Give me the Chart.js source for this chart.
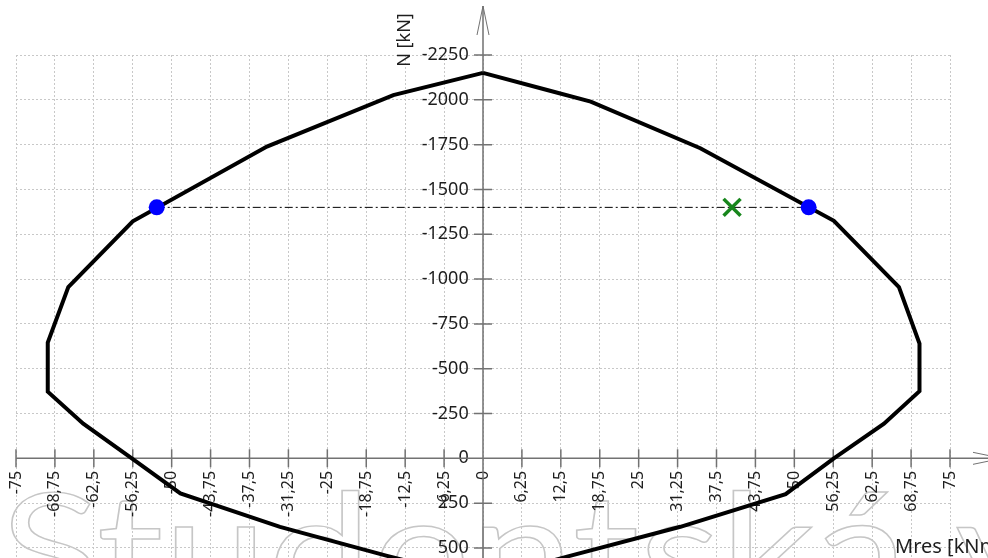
<!DOCTYPE html>
<html>
<head>
<meta charset="utf-8">
<script src="https://cdn.jsdelivr.net/npm/chart.js@4.4.1/dist/chart.umd.min.js"></script>
<style>
  body { margin: 0; background: #fff; }
  #wrap { width: 988px; height: 558px; }
</style>
</head>
<body>
<div id="wrap"><canvas id="chart" width="988" height="558"></canvas></div>
<script>
// M-N interaction curve (closed polygon)
const curveM = [0, 10.3, 17.3, 34.9, 56.35, 66.8, 70.1, 70.1, 64.4, 56.35, 48.6, 31.7, 13.5, 0,
                -15.4, -32.6, -48.6, -56.4, -64.2, -69.9, -69.9, -66.6, -56.25, -34.7, -14.4, 0];
const curveN = [-2150, -2055, -1990, -1730, -1325, -955, -640, -375, -193, 0, 200, 382, 548, 680,
                544, 382, 196, 0, -193, -372, -646, -955, -1322, -1739, -2026, -2150];

// intersection points of the load line with the curve
const limitM = [-52.4, 52.3];
const limitN = [-1400, -1400];

// design load
const loadM = [40];
const loadN = [-1400];

// tick values
const mTicks = [-75, -68.75, -62.5, -56.25, -50, -43.75, -37.5, -31.25, -25, -18.75, -12.5, -6.25, 0,
                6.25, 12.5, 18.75, 25, 31.25, 37.5, 43.75, 50, 56.25, 62.5, 68.75, 75];
const nTicks = [-2250, -2000, -1750, -1500, -1250, -1000, -750, -500, -250, 0, 250, 500];
const mMin = -75, mMax = 75;
const nMin = -2250, nMax = 556;
const xTitle = 'Mres [kNm]';
const yTitle = 'N [kN]';
const watermark = 'Studentská verze';

const pts = (xs, ys) => xs.map((v, i) => ({x: v, y: ys[i]}));
const fontFam = '"Noto Sans", "DejaVu Sans", sans-serif';
const noPad = s => { s.paddingLeft = s.paddingRight = s.paddingTop = s.paddingBottom = 0; };

const axesPlugin = {
    id: 'axes',
    beforeDraw(chart) {
        const ctx = chart.ctx;
        ctx.save();
        ctx.fillStyle = '#fff';
        ctx.fillRect(0, 0, chart.width, chart.height);
        ctx.font = '160px Lato, ' + fontFam;
        ctx.strokeStyle = '#c6c6c6';
        ctx.lineWidth = 1.4;
        const w = ctx.measureText('Studentská ').width;
        ctx.translate(0, 608);
        ctx.scale(955 / w, 1);
        ctx.strokeText(watermark, 0, 0);
        ctx.restore();
    },
    beforeDatasetsDraw(chart) {
        const {ctx, chartArea: a, scales: {x, y}} = chart;
        const x0 = x.getPixelForValue(0);
        const y0 = y.getPixelForValue(0);
        ctx.save();
        ctx.strokeStyle = '#727272';
        ctx.lineWidth = 1.5;
        ctx.beginPath();
        ctx.moveTo(a.left, y0); ctx.lineTo(chart.width, y0);
        ctx.moveTo(x0, a.bottom); ctx.lineTo(x0, 6);
        x.ticks.forEach(t => {
            const p = x.getPixelForValue(t.value);
            ctx.moveTo(p, y0 - 9); ctx.lineTo(p, y0 + 9);
        });
        y.ticks.forEach(t => {
            const p = y.getPixelForValue(t.value);
            ctx.moveTo(x0 - 9, p); ctx.lineTo(x0 + 9, p);
        });
        ctx.stroke();

        // arrow heads
        ctx.lineWidth = 1;
        ctx.beginPath();
        ctx.moveTo(x0 - 6, 35); ctx.lineTo(x0, 6); ctx.lineTo(x0 + 6, 35);
        ctx.moveTo(973, y0 - 6); ctx.lineTo(1002, y0); ctx.lineTo(973, y0 + 6);
        ctx.stroke();

        // axis titles
        ctx.fillStyle = '#1e1e1e';
        ctx.font = '20px ' + fontFam;
        ctx.textAlign = 'left';
        ctx.textBaseline = 'alphabetic';
        ctx.fillText(xTitle, 895, 553);
        ctx.font = '18px ' + fontFam;
        ctx.translate(405, 40);
        ctx.rotate(-Math.PI / 2);
        ctx.textAlign = 'center';
        ctx.textBaseline = 'middle';
        ctx.fillText(yTitle, 0, 0);
        ctx.restore();
    }
};

new Chart(document.getElementById('chart'), {
    type: 'scatter',
    data: {
        datasets: [{
            data: pts(limitM, limitN),
            pointRadius: 8,
            pointBackgroundColor: '#0000ff',
            pointBorderWidth: 0,
            showLine: false,
            order: 0
        }, {
            data: pts(loadM, loadN),
            pointStyle: 'crossRot',
            pointRadius: 12,
            pointBorderColor: '#17861c',
            pointBorderWidth: 3.5,
            order: 1
        }, {
            data: pts(curveM, curveN),
            showLine: true,
            borderColor: '#000',
            borderWidth: 4,
            pointRadius: 0,
            fill: false,
            order: 2
        }, {
            data: pts(limitM, limitN),
            showLine: true,
            borderColor: '#000',
            borderWidth: 1,
            borderDash: [8, 3, 2, 3],
            pointRadius: 0,
            order: 3
        }]
    },
    options: {
        responsive: false,
        devicePixelRatio: 1,
        animation: false,
        layout: { autoPadding: false, padding: { left: 16, right: 38, top: 55, bottom: 0 } },
        plugins: { legend: { display: false }, tooltip: { enabled: false } },
        scales: {
            x: {
                type: 'linear',
                // labels hang a little below the axis line
                position: { y: 70 },
                min: mMin, max: mMax,
                afterFit: noPad,
                afterBuildTicks: s => { s.ticks = mTicks.map(v => ({value: v})); },
                grid: { color: '#c8c8c8', lineWidth: 1, drawTicks: false },
                border: { display: false, dash: [2, 2] },
                ticks: {
                    autoSkip: false,
                    minRotation: 90, maxRotation: 90,
                    padding: 0,
                    color: '#1e1e1e',
                    font: { family: fontFam, size: 16 },
                    callback: v => String(v).replace('.', ',')
                }
            },
            y: {
                type: 'linear',
                // labels sit a little left of the axis line
                position: { x: -2.3 },
                reverse: true,
                min: nMin, max: nMax,
                afterFit: noPad,
                afterBuildTicks: s => { s.ticks = nTicks.map(v => ({value: v})); },
                grid: { color: '#c8c8c8', lineWidth: 1, drawTicks: false },
                border: { display: false, dash: [2, 2] },
                ticks: {
                    padding: 0,
                    color: '#1e1e1e',
                    font: { family: fontFam, size: 18 },
                    callback: v => String(v)
                }
            }
        }
    },
    plugins: [axesPlugin]
});
</script>
</body>
</html>
